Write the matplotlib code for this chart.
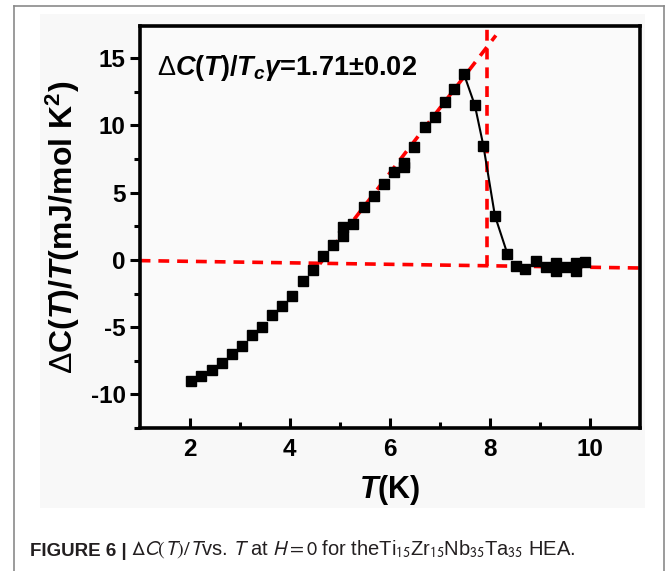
import matplotlib
matplotlib.use("Agg")
import matplotlib.pyplot as plt
from matplotlib import font_manager
from matplotlib.patches import Rectangle
from matplotlib.lines import Line2D

# ---------------- data ----------------
T_data = [2.03, 2.23, 2.44, 2.64, 2.84, 3.05, 3.25, 3.45, 3.65, 3.85,
          4.05, 4.26, 4.46, 4.67, 4.86, 5.07, 5.07, 5.27, 5.48, 5.68,
          5.88, 6.08, 6.28, 6.28, 6.48, 6.70, 6.90, 7.10, 7.28, 7.48,
          7.70, 7.87, 8.10, 8.35, 8.53, 8.70, 8.93, 9.13, 9.33, 9.33,
          9.53, 9.73, 9.73, 9.90]
dC_data = [-9.0, -8.66, -8.19, -7.64, -7.0, -6.4, -5.56, -4.99, -4.12, -3.40,
           -2.71, -1.56, -0.72, 0.32, 1.12, 1.8, 2.43, 2.68, 3.92, 4.78,
           5.65, 6.52, 6.9, 7.2, 8.38, 9.87, 10.6, 11.73, 12.72, 13.84,
           11.5, 8.5, 3.3, 0.45, -0.42, -0.67, -0.05, -0.55, -0.2, -0.85,
           -0.55, -0.2, -0.8, -0.18]
# guide line through the transition (peak onwards)
T_guide = [7.48, 7.70, 7.87, 8.10, 8.35]
dC_guide = [13.84, 11.5, 8.5, 3.3, 0.45]
# red dashed construction lines (entropy-conserving construction)
base_T = [1.0, 11.0]
base_C = [-0.05, -0.6]
fit_T = [4.60, 8.12]
fit_C = [-0.3, 16.7]
tc_T = [7.95, 7.95]
tc_C = [-0.42, 17.4]

xticks = [2, 4, 6, 8, 10]
yticks = [-10, -5, 0, 5, 10, 15]

# ---------------- fonts ----------------
avail = {f.name for f in font_manager.fontManager.ttflist}
main_font = "Liberation Sans" if "Liberation Sans" in avail else "DejaVu Sans"
cap_font = main_font

plt.rcParams["font.family"] = [main_font, "DejaVu Sans"]
plt.rcParams["axes.unicode_minus"] = False
plt.rcParams["mathtext.fontset"] = "custom"
plt.rcParams["mathtext.rm"] = main_font + ":bold"
plt.rcParams["mathtext.bf"] = main_font + ":bold"
plt.rcParams["mathtext.it"] = main_font + ":bold:italic"
plt.rcParams["mathtext.sf"] = main_font

W, H = 670, 571
fig = plt.figure(figsize=(W / 100, H / 100), dpi=100)
fig.patch.set_facecolor("white")

# outer frame and light panel
fig.add_artist(Line2D([14 / W, 14 / W], [0, 1 - 6 / H], color="#8a8a8a", lw=1.2))
fig.add_artist(Line2D([14 / W, 664 / W], [1 - 6 / H, 1 - 6 / H], color="#8a8a8a", lw=1.2))
fig.add_artist(Line2D([664 / W, 664 / W], [0, 1 - 6 / H], color="#8a8a8a", lw=1.2))
fig.add_artist(Rectangle((40 / W, 1 - 508 / H), (645 - 40) / W, (508 - 14) / H,
                         transform=fig.transFigure, facecolor="#f8f8f8",
                         edgecolor="none", zorder=-5))

ax = fig.add_axes([139.6 / W, 1 - 428 / H, (640 - 139.6) / W, (428 - 26) / H])
ax.set_facecolor("#fafafa")

ax.plot(base_T, base_C, color="#ff0000", lw=2.6, ls=(0, (3, 2.2)), zorder=2)
ax.plot(fit_T, fit_C, color="#ff0000", lw=2.6, ls=(0, (3, 2.2)), zorder=2)
ax.plot(tc_T, tc_C, color="#ff0000", lw=2.6, ls=(0, (3, 2.2)), zorder=2)
ax.plot(T_guide, dC_guide, color="black", lw=1.5, zorder=3)
ax.plot(T_data, dC_data, ls="none", marker="s", ms=6.8, color="black", zorder=4)

ax.set_xlim(1, 11)
ax.set_ylim(-12.5, 17.4)
ax.set_xticks(xticks)
ax.set_yticks(yticks)
ax.set_xticks([3, 5, 7, 9], minor=True)
ax.set_yticks([-12.5, -7.5, -2.5, 2.5, 7.5, 12.5], minor=True)
ax.tick_params(axis="x", which="major", direction="in", length=7, width=2.2, pad=7)
ax.tick_params(axis="x", which="minor", direction="in", length=4, width=2.2)
ax.tick_params(axis="y", which="major", direction="out", length=7, width=2.2, pad=3)
ax.tick_params(axis="y", which="minor", direction="out", length=4, width=2.2)
for lbl in ax.get_xticklabels() + ax.get_yticklabels():
    lbl.set_fontweight("bold")
    lbl.set_fontsize(17.5)
for sp in ax.spines.values():
    sp.set_linewidth(2.6)

ax.set_xlabel(r"$T$(K)", fontsize=22, fontweight="bold", labelpad=9)
ax.set_ylabel(r"$\mathsf{\Delta}$C($T$)/$T$(mJ/mol K$^{2}$)", fontsize=23,
              fontweight="bold", labelpad=6)

ax.text(0.035, 0.895, r"$\mathsf{\Delta}C(T)/T_c\gamma$=1.71±0.02",
        transform=ax.transAxes, fontsize=19.5, fontweight="bold",
        ha="left", va="center")

# caption
t1 = fig.text(30 / W, 1 - 556 / H, "FIGURE 6 |", family=cap_font,
              fontweight="bold", fontsize=13.5, color="#231f20", va="baseline")
ax.annotate(r"$\Delta C(T)/T$vs. $T$ at $H = 0$ for theTi$_{15}$Zr$_{15}$Nb$_{35}$Ta$_{35}$ HEA.",
            xy=(1, 0), xycoords=t1, xytext=(3, 0), textcoords="offset points",
            va="bottom", ha="left", family=cap_font, fontsize=14.5,
            color="#231f20", math_fontfamily="stixsans", annotation_clip=False)

fig.savefig("out.png", dpi=100)
